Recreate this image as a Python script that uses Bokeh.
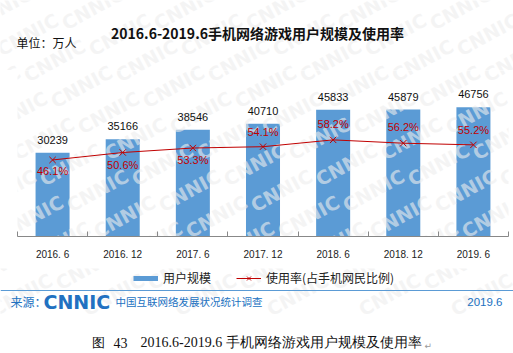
from bokeh.plotting import figure
from bokeh.layouts import column
from bokeh.models import (ColumnDataSource, Range1d, FixedTicker, Legend, LegendItem, LinearAxis)
from bokeh.core.properties import value
from bokeh.embed import file_html
from bokeh.resources import INLINE

# ---- data ----
categories = ["2016. 6", "2016. 12", "2017. 6", "2017. 12", "2018. 6", "2018. 12", "2019. 6"]
users = [30239, 35166, 38546, 40710, 45833, 45879, 46756]
rate = [46.1, 50.6, 53.3, 54.1, 58.2, 56.2, 55.2]
rate_labels = ["46.1%", "50.6%", "53.3%", "54.1%", "58.2%", "56.2%", "55.2%"]
# label placement style (screen px offsets of rate labels)
rate_label_dy = [11, 12, 12, -15, -16, -16, -15]

title_text = "2016.6-2019.6手机网络游戏用户规模及使用率"
unit_text = "单位：万人"
legend_users = "用户规模"
legend_rate = "使用率(占手机网民比例)"
source_prefix = "来源："
source_logo = "CNNIC"
source_name = "中国互联网络发展状况统计调查"
source_date = "2019.6"
caption_fig = "图"
caption_num = "43"
caption_text = "2016.6-2019.6 手机网络游戏用户规模及使用率"
caption_mark = "↵"
watermark = "CNNIC"

BLUE = "#5B9BD5"
RED = "#C00000"
DARKBLUE = "#2171C1"
SANS = "Noto Sans CJK SC"
NUM = "Liberation Sans"
SERIF = "Liberation Serif"

W, H = 513, 353
HEAD_H = 70
FRAME_H = 166
BOTTOM = 32
MAIN_H = FRAME_H + BOTTOM
FOOT_TOP = HEAD_H + MAIN_H
FOOT_H = H - FOOT_TOP
FL, FB = 17, HEAD_H + FRAME_H  # main frame left / bottom in page px

# faint tiled watermark positions (page px), decorative only
WM = []
for r in range(12):
    Y = 8 + 26 * r
    if Y > 300:
        break
    for c in range(-1, 7):
        WM.append((c * 92 + (r * 27) % 92, Y))
WM_STYLE = dict(text_color="#eeeeee", text_alpha=0.6, text_font_size="19px",
                text_font_style="bold", angle=0.5, text_align="center", text_baseline="middle",
                text_font=value("DejaVu Sans"))


def blank(height, y0, y1):
    f = figure(width=W, height=height, output_backend="svg", toolbar_location=None,
               x_range=Range1d(0, W), y_range=Range1d(y1, y0),
               x_axis_location=None, y_axis_location=None, frame_align=False,
               min_border=0, min_border_left=0, min_border_right=0, min_border_top=0, min_border_bottom=0)
    f.xgrid.visible = False
    f.ygrid.visible = False
    f.outline_line_color = None
    f.background_fill_color = "white"
    f.border_fill_color = "white"
    pts = [(x, y) for x, y in WM if y0 - 30 <= y <= y1 + 30]
    if pts:
        f.text(x=[a for a, _ in pts], y=[b for _, b in pts], text=[watermark] * len(pts), **WM_STYLE)
    return f


def txt(f, X, Y, text, font=SANS, size="12px", color="#111111", align="left", style="normal"):
    f.text(x=[X], y=[Y], text=[text], text_font=value(font), text_font_size=size,
           text_color=color, text_align=align, text_baseline="middle", text_font_style=style)


# ---- header ----
head = blank(HEAD_H, 0, HEAD_H)
txt(head, 257, 32, title_text, size="14px", align="center", style="bold")
txt(head, 16, 42, unit_text, size="12px")

# ---- main chart ----
idx = list(range(len(categories)))
src = ColumnDataSource(dict(x=idx, users=users, rate=rate,
                            ulab=[str(u) for u in users], rlab=rate_labels, rdy=rate_label_dy))

p = figure(width=W, height=MAIN_H, output_backend="svg", toolbar_location=None,
           x_range=Range1d(-0.5, len(categories) - 0.5), y_range=Range1d(0, 60000),
           y_axis_location=None, x_axis_location=None, frame_align=False,
           min_border_left=FL, min_border_right=5, min_border_top=0, min_border_bottom=BOTTOM)
p.extra_y_ranges = {"rate": Range1d(0, 100)}
p.xgrid.visible = False
p.ygrid.visible = False
p.outline_line_color = None
p.background_fill_color = "white"
p.border_fill_color = "white"

xaxis = LinearAxis(ticker=FixedTicker(ticks=idx, minor_ticks=[i - 0.5 for i in range(len(categories) + 1)]))
xaxis.major_label_overrides = {i: c for i, c in enumerate(categories)}
xaxis.major_tick_out = 0
xaxis.major_tick_in = 0
xaxis.minor_tick_in = 5
xaxis.minor_tick_out = 0
xaxis.minor_tick_line_color = "#888888"
xaxis.axis_line_color = "#888888"
xaxis.major_label_text_font = NUM
xaxis.major_label_text_font_size = "10px"
xaxis.major_label_text_color = "#222222"
xaxis.major_label_standoff = 12
p.add_layout(xaxis, "below")

p.vbar(x="x", top="users", width=0.485, source=src, fill_color=BLUE, line_color=None)

# watermark over the chart area: anchored at the frame's bottom-left corner, offset in screen px
wm_main = [(X, Y) for X, Y in WM if HEAD_H - 30 <= Y <= FB + 30]
p.text(x=[-0.5] * len(wm_main), y=[0] * len(wm_main), text=[watermark] * len(wm_main),
       x_offset=[X - FL for X, _ in wm_main], y_offset=[Y - FB for _, Y in wm_main], **WM_STYLE)

p.text(x="x", y="users", text="ulab", source=src, text_align="center", text_baseline="middle",
       y_offset=-13, text_font=value(NUM), text_font_size="11px", text_color="#111111")

ln = p.line(x="x", y="rate", source=src, y_range_name="rate", line_color=RED, line_width=1)
mk = p.scatter(x="x", y="rate", source=src, y_range_name="rate", marker="x", size=9,
               line_color=RED, line_width=1)
p.text(x="x", y="rate", text="rlab", source=src, y_range_name="rate", y_offset="rdy",
       text_align="center", text_baseline="middle", text_font=value(NUM), text_font_size="11px",
       text_color=RED)

# ---- footer (legend keys mirror the chart's series styles; their single point lies off-view) ----
foot = blank(FOOT_H, FOOT_TOP, 310)
foot.y_range = Range1d(H, FOOT_TOP)
off = dict(x=[-1000], y=[-1000])
k_users = foot.line(line_color=BLUE, line_width=5, **off)
k_line = foot.line(line_color=RED, line_width=1, **off)
k_mark = foot.scatter(marker="x", size=9, line_color=RED, line_width=1, **off)
legend = Legend(items=[LegendItem(label=legend_users, renderers=[k_users]),
                       LegendItem(label=legend_rate, renderers=[k_line, k_mark])],
                orientation="horizontal", location=(133, H - 286),
                glyph_width=25, glyph_height=14, label_height=14, label_standoff=5, spacing=25,
                padding=0, margin=0, border_line_color=None, background_fill_alpha=0,
                label_text_font=SANS, label_text_font_size="12px", label_text_color="#222222")
foot.add_layout(legend, "center")

foot.segment(x0=[0], y0=[290], x1=[W], y1=[290], line_color=BLUE, line_width=1)
txt(foot, 10, 301, source_prefix, size="12px", color=DARKBLUE)
txt(foot, 43, 301, source_logo, font="DejaVu Sans", size="19px", color=DARKBLUE, style="bold")
txt(foot, 115, 301, source_name, size="10.5px", color=DARKBLUE)
txt(foot, 502, 301, source_date, font=NUM, size="11.5px", color=DARKBLUE, align="right")
txt(foot, 91, 342, caption_fig, font=SERIF, size="13px")
txt(foot, 113, 342, caption_num, font=SERIF, size="14px")
txt(foot, 140, 342, caption_text, font=SERIF, size="14px")
txt(foot, 424, 345, caption_mark, font="DejaVu Sans", size="9px", color="#999999")

layout = column(head, p, foot, spacing=0)
open("out.html", "w").write(file_html(layout, INLINE))
